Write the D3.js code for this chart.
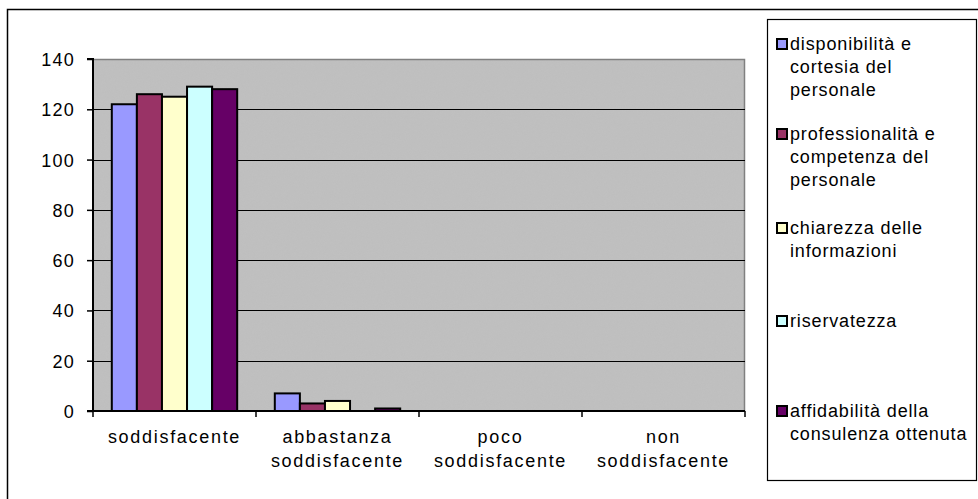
<!DOCTYPE html>
<html>
<head>
<meta charset="utf-8">
<script src="https://cdn.jsdelivr.net/npm/d3@7"></script>
<style>
  html, body { margin: 0; padding: 0; background: #fff; }
  svg { display: block; font-family: "Liberation Sans", Arial, sans-serif; }
</style>
</head>
<body>
<svg id="chart" width="978" height="499"></svg>
<script>
// Rating categories on the x axis
const categories = ["soddisfacente", "abbastanza soddisfacente", "poco soddisfacente", "non soddisfacente"];
// Label lines under each category
const categoryLines = [["soddisfacente"], ["abbastanza", "soddisfacente"], ["poco", "soddisfacente"], ["non", "soddisfacente"]];

// One series per survey question
const seriesNames = [
  "disponibilità e cortesia del personale",
  "professionalità e competenza del personale",
  "chiarezza delle informazioni",
  "riservatezza",
  "affidabilità della consulenza ottenuta"
];
const seriesLegendLines = [
  ["disponibilità e", "cortesia del", "personale"],
  ["professionalità e", "competenza del", "personale"],
  ["chiarezza delle", "informazioni"],
  ["riservatezza"],
  ["affidabilità della", "consulenza ottenuta"]
];
const disponibilita = [122, 7, 0, 0];
const professionalita = [126, 3, 0, 0];
const chiarezza = [125, 4, 0, 0];
const riservatezza = [129, 0, 0, 0];
const affidabilita = [128, 1, 0, 0];
const seriesValues = [disponibilita, professionalita, chiarezza, riservatezza, affidabilita];

const yTicks = [0, 20, 40, 60, 80, 100, 120, 140];

const colors = ["#9999FF", "#993366", "#FFFFCC", "#CCFFFF", "#660066"];

const FONT = "18px";

const svg = d3.select("#chart");
const plot = { left: 93, right: 745, top: 59, bottom: 411 };

// Outer chart frame (extends past the window edges)
svg.append("rect")
  .attr("x", 7.5).attr("y", 9.5).attr("width", 1000).attr("height", 600)
  .attr("fill", "#fff").attr("stroke", "#000").attr("stroke-width", 1.5);

const x0 = d3.scaleBand().domain(categories).range([plot.left, plot.right]).paddingInner(0).paddingOuter(0);
const bandW = x0.bandwidth();
// Five bars per category with a 150% gap split on both sides
const x1 = d3.scaleBand().domain(d3.range(seriesNames.length))
  .range([0, bandW]).paddingInner(0).paddingOuter(0.75);
const y = d3.scaleLinear().domain([0, 140]).range([plot.bottom, plot.top]);

// Grainy grey plot background
const defs = svg.append("defs");
const f = defs.append("filter").attr("id", "grain").attr("x", 0).attr("y", 0).attr("width", 1).attr("height", 1);
f.append("feTurbulence").attr("type", "fractalNoise").attr("baseFrequency", 0.9).attr("numOctaves", 1).attr("seed", 3).attr("result", "noise");
f.append("feColorMatrix").attr("in", "noise").attr("type", "matrix")
  .attr("values", "0 0 0 0 0.5  0 0 0 0 0.5  0 0 0 0 0.5  0 0 0 0.35 -0.1").attr("result", "speck");
f.append("feComposite").attr("in", "speck").attr("in2", "SourceGraphic").attr("operator", "in").attr("result", "sp");
f.append("feMerge").selectAll("feMergeNode").data(["SourceGraphic", "sp"]).join("feMergeNode").attr("in", d => d);

svg.append("rect")
  .attr("x", plot.left).attr("y", plot.top)
  .attr("width", plot.right - plot.left).attr("height", plot.bottom - plot.top)
  .attr("fill", "#C0C0C0").attr("filter", "url(#grain)");

// Plot border on top and right
svg.append("path")
  .attr("d", `M${plot.left},${plot.top + 0.5}H${plot.right - 0.5}V${plot.bottom}`)
  .attr("fill", "none").attr("stroke", "#808080").attr("stroke-width", 1.5);

// Horizontal gridlines
svg.append("g").selectAll("line").data(yTicks.filter(t => t > 0 && t < 140)).join("line")
  .attr("x1", plot.left).attr("x2", plot.right)
  .attr("y1", d => Math.round(y(d)) + 0.5).attr("y2", d => Math.round(y(d)) + 0.5)
  .attr("stroke", "#000").attr("stroke-width", 1.2);

// Bars
const groups = svg.append("g").selectAll("g").data(categories).join("g")
  .attr("transform", d => `translate(${x0(d)},0)`);
groups.selectAll("rect").data((c, ci) => seriesValues.map((vals, si) => ({ si, v: vals[ci] })))
  .join("rect")
  .filter(d => d.v > 0)
  .attr("x", d => x1(d.si))
  .attr("y", d => y(d.v))
  .attr("width", x1.bandwidth())
  .attr("height", d => y(0) - y(d.v))
  .attr("fill", d => colors[d.si])
  .attr("stroke", "#000").attr("stroke-width", 2);

// Y axis
const yAxis = d3.axisLeft(y).tickValues(yTicks).tickSize(6).tickPadding(12);
const yg = svg.append("g").attr("transform", `translate(${plot.left},0)`).call(yAxis);
yg.select(".domain").attr("stroke", "#000").attr("stroke-width", 2).attr("d", `M-6,${plot.top}H0V${plot.bottom}`);
yg.selectAll(".tick line").attr("stroke", "#000").attr("stroke-width", 1.5);
yg.selectAll(".tick text").attr("fill", "#000").style("font-size", FONT).style("letter-spacing", "1.2px")
  .attr("dy", "0.36em");

// X axis with ticks at category boundaries
svg.append("line").attr("x1", plot.left - 6).attr("x2", plot.right)
  .attr("y1", plot.bottom).attr("y2", plot.bottom)
  .attr("stroke", "#000").attr("stroke-width", 2);
const boundaries = categories.map(c => x0(c)).concat([plot.right]);
svg.append("g").selectAll("line").data(boundaries).join("line")
  .attr("x1", d => d).attr("x2", d => d)
  .attr("y1", plot.bottom).attr("y2", plot.bottom + 6)
  .attr("stroke", "#000").attr("stroke-width", 1.5);

const xl = svg.append("g").selectAll("text").data(categories).join("text")
  .attr("x", d => x0(d) + bandW / 2)
  .attr("y", plot.bottom + 32)
  .attr("text-anchor", "middle")
  .style("font-size", FONT).style("letter-spacing", "1.7px").attr("fill", "#000");
xl.selectAll("tspan").data((d, i) => categoryLines[i]).join("tspan")
  .attr("x", function () { return d3.select(this.parentNode).attr("x"); })
  .attr("dy", (d, i) => i === 0 ? 0 : 24)
  .text(d => d);

// Legend
const legend = { left: 767, top: 19, right: 976, bottom: 480 };
svg.append("rect")
  .attr("x", legend.left + 0.5).attr("y", legend.top + 0.5)
  .attr("width", legend.right - legend.left).attr("height", legend.bottom - legend.top)
  .attr("fill", "#fff").attr("stroke", "#000").attr("stroke-width", 1.2);

const legendFirstLine = [50, 140, 234, 327, 417];
const lineH = 23;
const lg = svg.append("g").selectAll("g").data(seriesNames).join("g")
  .attr("transform", (d, i) => `translate(${legend.left}, ${legendFirstLine[i]})`);
lg.append("rect")
  .attr("x", 10).attr("y", -11).attr("width", 10).attr("height", 10)
  .attr("fill", (d, i) => colors[i]).attr("stroke", "#000").attr("stroke-width", 2);
lg.append("text")
  .style("font-size", FONT).style("letter-spacing", "0.85px").attr("fill", "#000")
  .selectAll("tspan").data((d, i) => seriesLegendLines[i]).join("tspan")
  .attr("x", 23).attr("y", (d, i) => i * lineH)
  .text(d => d);
</script>
</body>
</html>
